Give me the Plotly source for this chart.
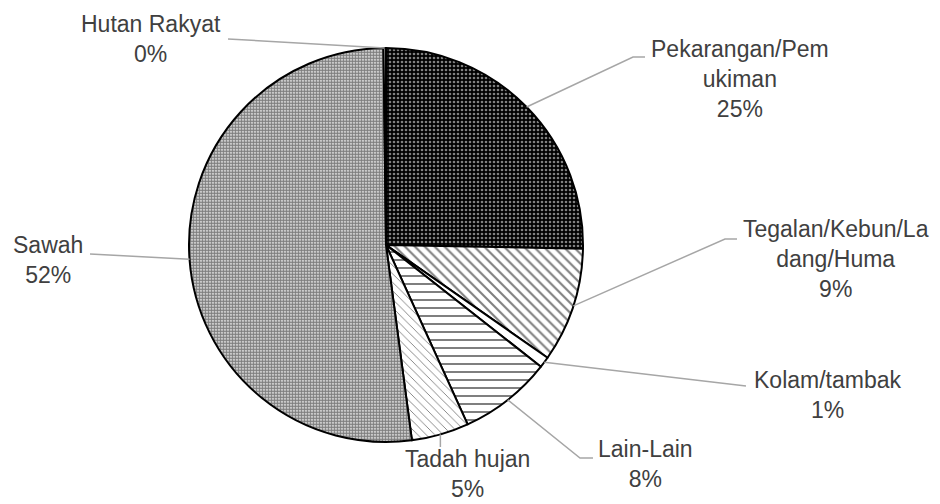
import math
import plotly.graph_objects as go

# land use shares (%), clockwise from 12 o'clock
labels = ["Pekarangan/Pemukiman", "Tegalan/Kebun/Ladang/Huma", "Kolam/tambak",
          "Lain-Lain", "Tadah hujan", "Sawah", "Hutan Rakyat"]
values = [25.3, 9.4, 0.9, 7.6, 4.7, 51.9, 0.2]
label_text = ["Pekarangan/Pem<br>ukiman", "Tegalan/Kebun/La<br>dang/Huma", "Kolam/tambak",
              "Lain-Lain", "Tadah hujan", "Sawah", "Hutan Rakyat"]

W, H = 940, 504
CX, CY, R = 386, 245, 197

fig = go.Figure()
fig.add_trace(go.Pie(
    labels=labels, values=values, sort=False, direction="clockwise", rotation=0,
    textinfo="none", hoverinfo="skip", showlegend=False,
    domain=dict(x=[(CX - R) / W, (CX + R) / W], y=[1 - (CY + R) / H, 1 - (CY - R) / H]),
    marker=dict(
        colors=["black", "white", "white", "white", "white", "white", "white"],
        line=dict(color="black", width=2),
        pattern=dict(
            shape=[".", "\\", "", "-", "\\", ".", ""],
            fgcolor=["white", "black", "black", "black", "black", "black", "black"],
            size=[4, 7, 8, 8, 6, 3, 8],
            solidity=[0.35, 0.3, 0.3, 0.25, 0.15, 0.75, 0.3],
            fillmode="overlay",
        ),
    ),
))

def px(x, y):
    return x / W, 1 - y / H

# label block centres and leader knee points (pixels)
label_pos = [(740, 79), (836, 259), (828, 395), (645, 464), (467, 474), (48, 260), (151, 39)]
knees = [[(633, 57), (645, 57)], [(725, 239), (737, 239)], [(746, 386)],
         [(580, 458), (593, 458)], [None], [(90, 254)], [(228, 39)]]

total = sum(values)
cum = 0
for v, txt, (lx, ly), kn in zip(values, label_text, label_pos, knees):
    pct = round(100 * v / total)
    theta = 2 * math.pi * (cum + v / 2) / total
    cum += v
    ex, ey = CX + R * math.sin(theta), CY - R * math.cos(theta)
    pts = [(ex, ey)]
    for k in kn:
        pts.append(k if k is not None else (ex, 447))
    path = "M " + " L ".join("%f,%f" % px(x, y) for x, y in pts)
    fig.add_shape(type="path", path=path, xref="paper", yref="paper",
                  line=dict(color="#a6a6a6", width=1.5))
    ax_, ay_ = px(lx, ly)
    fig.add_annotation(x=ax_, y=ay_, xref="paper", yref="paper", showarrow=False,
                       text=f"{txt}<br>{pct}%", align="center",
                       xanchor="center", yanchor="middle",
                       font=dict(size=23, color="#404040"))

fig.update_layout(
    width=W, height=H,
    margin=dict(l=0, r=0, t=0, b=0),
    paper_bgcolor="white", plot_bgcolor="white",
    font=dict(family="Liberation Sans, Arial, sans-serif"),
)
fig.write_html("out.html", config={"displayModeBar": False},
               post_script="document.body.style.margin='0';")
